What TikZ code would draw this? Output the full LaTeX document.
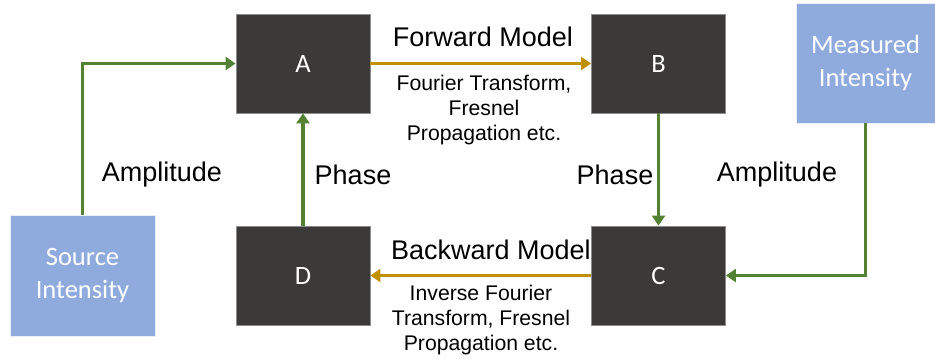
\documentclass[tikz,border=0pt]{standalone}
\usepackage{fontspec}
\setmainfont{Liberation Sans}
\newfontfamily\boxfont{Carlito}
\usetikzlibrary{arrows.meta}
\definecolor{darkbox}{HTML}{3B3A39}
\definecolor{boxedge}{HTML}{8C8C8C}
\definecolor{lightblue}{HTML}{8FAADC}
\definecolor{arrgreen}{HTML}{548235}
\definecolor{arrgold}{HTML}{BF9000}
\tikzset{
  dbox/.style={draw=boxedge, fill=darkbox, line width=0.8pt, minimum width=134pt, minimum height=99pt, inner sep=0pt, text=white, font=\boxfont\fontsize{26.5}{30}\selectfont},
  bbox/.style={draw=white!80!lightblue, fill=lightblue, line width=0.8pt, inner sep=0pt, text=white, align=center, font=\boxfont\fontsize{26.5}{33}\selectfont},
  garrow/.style={draw=arrgreen, line width=3.4pt, -{Triangle[length=10pt,width=13pt]}},
  yarrow/.style={draw=arrgold, line width=3.4pt, -{Triangle[length=10pt,width=13pt]}},
  biglabel/.style={font=\fontsize{27}{30}\selectfont, inner sep=0pt},
  smalllabel/.style={font=\fontsize{21.2}{25}\selectfont, inner sep=0pt, align=center}
}
\begin{document}
\begin{tikzpicture}[x=1pt,y=-1pt]
\useasboundingbox (0,0) rectangle (935,360);
\node[dbox] (A) at (303,63.5) {A};
\node[dbox] (B) at (658.5,63.5) {B};
\node[dbox] (D) at (303,275.5) {D};
\node[dbox] (C) at (658.5,275.5) {C};
\node[bbox, minimum width=145pt, minimum height=121pt] (S) at (82.5,275.5) {Source\\Intensity};
\node[bbox, minimum width=139pt, minimum height=120pt] (M) at (865.5,63) {Measured\\Intensity};
% connectors
\coordinate (s1) at (S.north |- A.west);
\draw[garrow] (S.north) -- (s1) -- (A.west);
\draw[garrow] (D.north) -- (A.south);
\draw[garrow] (B.south) -- (C.north);
\coordinate (m1) at (M.south |- C.east);
\draw[garrow] (M.south) -- (m1) -- (C.east);
\draw[yarrow] (A.east) -- (B.west);
\draw[yarrow] (C.west) -- (D.east);
% labels
\node[biglabel] (fm) at (483,37) {Forward Model};
\node[smalllabel] (ft) at (484,110) {Fourier Transform,\\Fresnel\\Propagation etc.};
\node[biglabel] (bm) at (491,250) {Backward Model};
\node[smalllabel] (bt) at (481,320) {Inverse Fourier\\Transform, Fresnel\\Propagation etc.};
\node[biglabel] (a1) at (162,175) {Amplitude};
\node[biglabel] (p1) at (353,175) {Phase};
\node[biglabel] (p2) at (615,175) {Phase};
\node[biglabel] (a2) at (777,175) {Amplitude};
\end{tikzpicture}
\end{document}
